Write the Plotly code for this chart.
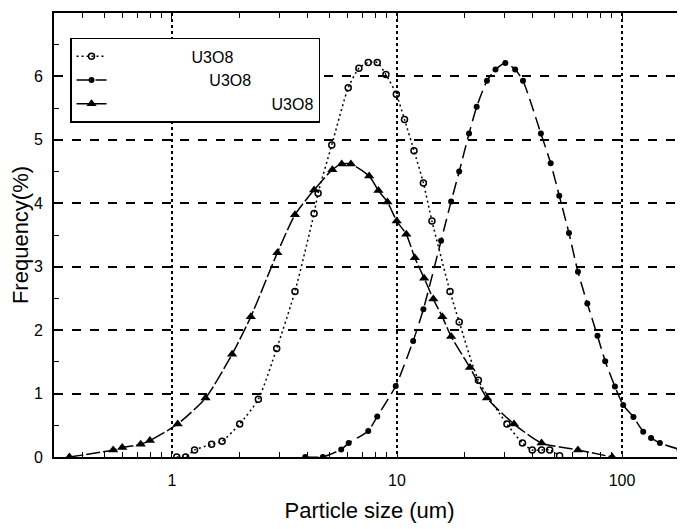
import numpy as np
import plotly.graph_objects as go

# Series 1: open circles, dotted line
s1_x = [1.05, 1.15, 1.26, 1.50, 1.67, 2.00, 2.42, 2.92, 3.52, 4.28, 4.46, 5.13, 6.07, 6.77, 7.45, 8.17,
        8.93, 9.93, 10.8, 11.9, 13.1, 14.3, 17.2, 18.9, 23.0, 30.8, 36.1, 39.9, 43.9, 47.7, 52.8]
s1_y = [0.0, 0.0, 0.11, 0.20, 0.25, 0.52, 0.91, 1.71, 2.61, 3.84, 4.16, 4.92, 5.82, 6.13, 6.22, 6.22,
        6.03, 5.72, 5.32, 4.83, 4.32, 3.72, 2.61, 2.13, 1.21, 0.52, 0.22, 0.11, 0.11, 0.11, 0.02]

# Series 2: filled circles, long dashed line
s2_x = [3.91, 4.68, 5.65, 6.10, 7.45, 8.17, 9.87, 11.8, 13.1, 15.7, 17.4, 18.9, 20.9, 22.6, 25.1, 27.4,
        30.3, 33.5, 36.3, 43.6, 48.2, 52.6, 58.1, 63.7, 70.1, 77.8, 84.2, 93.0, 101.2, 112.4, 124.2,
        134.6, 147.3, 180.1]
s2_y = [0.0, 0.0, 0.12, 0.22, 0.41, 0.64, 1.12, 1.83, 2.33, 3.41, 4.03, 4.50, 5.10, 5.52, 5.93, 6.11,
        6.21, 6.11, 5.93, 5.10, 4.63, 4.12, 3.53, 2.92, 2.42, 1.91, 1.51, 1.11, 0.82, 0.63, 0.40,
        0.30, 0.22, 0.12]

# Series 3: filled triangles, long dashed line
s3_x = [0.35, 0.548, 0.601, 0.726, 0.798, 1.06, 1.41, 1.85, 2.24, 2.94, 3.52, 4.28, 5.16, 5.68, 6.24,
        7.52, 8.27, 9.07, 9.97, 11.0, 12.0, 13.2, 14.5, 15.9, 17.4, 21.1, 25.1, 33.1, 43.9, 63.7, 90.5]
s3_y = [0.0, 0.11, 0.15, 0.20, 0.26, 0.52, 0.93, 1.62, 2.21, 3.22, 3.82, 4.21, 4.53, 4.62, 4.62,
        4.43, 4.20, 4.02, 3.72, 3.51, 3.14, 2.82, 2.49, 2.21, 1.90, 1.41, 0.93, 0.52, 0.22, 0.11, 0.0]

names = ["\u00a0" * 18 + "U3O8",
         "\u00a0" * 22 + "U3O8",
         "\u00a0" * 36 + "U3O8"]

FONT = "Liberation Sans, Arial, sans-serif"

fig = go.Figure()
fig.add_trace(go.Scatter(
    x=s1_x, y=s1_y, name=names[0], mode="lines+markers",
    line=dict(color="black", width=1.5, dash="2px,3px", shape="spline", smoothing=0.6),
    marker=dict(symbol="circle-open", size=6, color="black", line=dict(width=1.5)),
))
fig.add_trace(go.Scatter(
    x=s2_x, y=s2_y, name=names[1], mode="lines+markers",
    line=dict(color="black", width=1.5, dash="13px,6px", shape="spline", smoothing=0.6),
    marker=dict(symbol="circle", size=6, color="black"),
))
fig.add_trace(go.Scatter(
    x=s3_x, y=s3_y, name=names[2], mode="lines+markers",
    line=dict(color="black", width=1.5, dash="14px,3px", shape="spline", smoothing=0.6),
    marker=dict(symbol="triangle-up", size=9, color="black"),
))

# the page body has an 8px default margin, so the figure is offset by (8, 8)
fig.update_layout(
    width=677, height=521,
    margin=dict(l=46, r=0, t=5, b=72),
    paper_bgcolor="white", plot_bgcolor="white",
    font=dict(family=FONT, size=16, color="black"),
    showlegend=True,
    legend=dict(
        x=0.0254, y=0.944, xanchor="left", yanchor="top",
        bordercolor="black", borderwidth=1.5, bgcolor="white",
        font=dict(family=FONT, size=16, color="black"),
        tracegroupgap=0, itemwidth=30,
    ),
    xaxis=dict(
        type="log", range=[np.log10(0.299), np.log10(190.5)], dtick=1,
        showline=True, linecolor="black", linewidth=2, mirror="ticks",
        ticks="inside", ticklen=6, tickcolor="black", tickwidth=1,
        showgrid=True, gridcolor="black", gridwidth=2, griddash="dot",
        minor=dict(ticks="inside", ticklen=5, tickcolor="black", tickwidth=1, dtick="D1", showgrid=False),
        tickfont=dict(size=16), zeroline=False, automargin=False, ticklabelstandoff=8,
        title=dict(text="Particle size (um)", font=dict(size=22), standoff=14),
    ),
    yaxis=dict(
        range=[0, 7], dtick=1,
        showline=True, linecolor="black", linewidth=2, mirror=False,
        ticks="inside", ticklen=6, tickcolor="black", tickwidth=1,
        showgrid=True, gridcolor="black", gridwidth=1.5, griddash="dash",
        minor=dict(ticks="inside", ticklen=5, tickcolor="black", tickwidth=1, dtick=0.5, showgrid=False),
        tickfont=dict(size=16), zeroline=False, ticklabelstandoff=6, automargin=False,
        title=dict(text="Frequency(%)", font=dict(size=22), standoff=0),
    ),
)

fig.write_html("out.html")
